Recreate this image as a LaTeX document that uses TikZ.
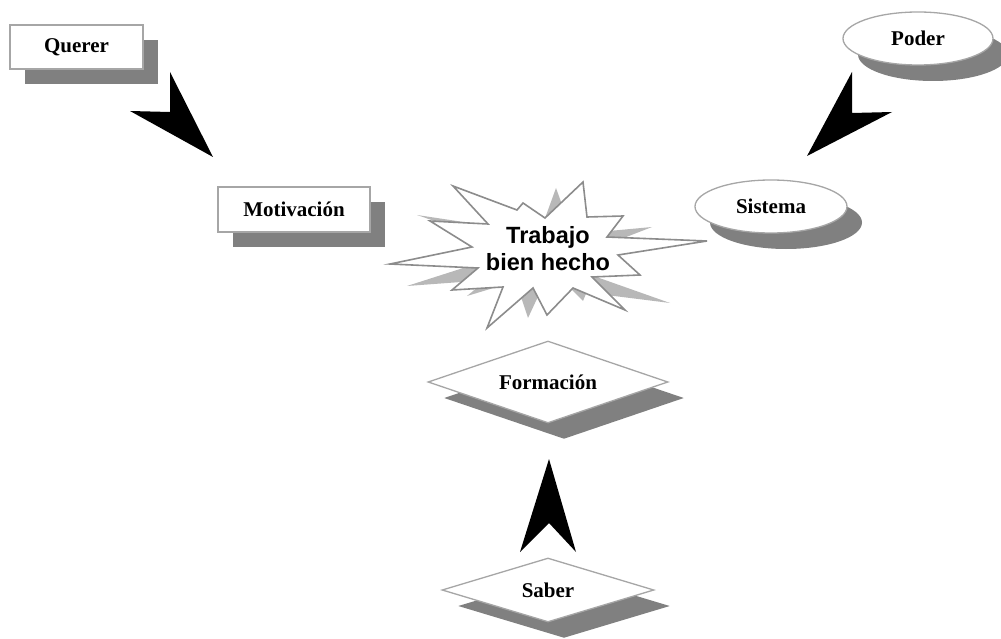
\documentclass[tikz,border=0pt]{standalone}
\usepackage{fontspec}
\setmainfont{Liberation Serif}
\newfontfamily\arialfont{Liberation Sans}
\usetikzlibrary{shapes.geometric,shadows}

\definecolor{sombra}{HTML}{808080}
\definecolor{borde}{HTML}{A6A6A6}
\definecolor{estrella}{HTML}{8C8C8C}
\definecolor{rayo}{HTML}{B8B8B8}

\begin{document}
\begin{tikzpicture}[x=1pt, y=-1pt,
			every node/.style={font=\fontsize{21}{25}\selectfont\bfseries, inner sep=0pt},
			caja/.style={draw=borde, line width=1.3pt, fill=white, rectangle,
				drop shadow={shadow xshift=15pt, shadow yshift=-15pt, fill=sombra, opacity=1}},
			elipse/.style={draw=borde, line width=1.3pt, fill=white, ellipse,
				drop shadow={shadow xshift=15pt, shadow yshift=-16pt, fill=sombra, opacity=1}},
			rombo/.style={draw=borde, line width=1.3pt, fill=white, diamond, aspect=3,
				drop shadow={shadow xshift=16pt, shadow yshift=-16pt, fill=sombra, opacity=1}},
			flecha/.style={fill=black}]
			\useasboundingbox (0,0) rectangle (1001,639);
			\node[caja, minimum width=133pt, minimum height=44pt] (querer) at (76.5,47) {Querer};
			\node[caja, minimum width=152pt, minimum height=45pt] (motiv) at (294,209.5) {Motivación};
			\node[elipse, minimum width=150pt, minimum height=53pt] (poder) at (918,38.5) {Poder};
			\node[elipse, minimum width=152pt, minimum height=53pt] (sistema) at (771,206.5) {Sistema};
			\node[rombo, minimum width=240pt, minimum height=82pt] (formacion) at (548,382) {Formación};
			\node[rombo, aspect=3.3, minimum width=212pt, minimum height=64pt] (saber) at (548,590) {Saber};
			% rayos grises detras de la estrella
			\fill[rayo] (417,215) -- (490,226) -- (490,240) -- cycle;
			\fill[rayo] (556,188) -- (540,232) -- (572,232) -- cycle;
			\fill[rayo] (652,227) -- (598,232) -- (598,248) -- cycle;
			\fill[rayo] (670,303) -- (588,274) -- (598,294) -- cycle;
			\fill[rayo] (583,301) -- (566,284) -- (590,284) -- cycle;
			\fill[rayo] (528,318) -- (518,288) -- (542,288) -- cycle;
			\fill[rayo] (467,296) -- (484,282) -- (500,286) -- cycle;
			\fill[rayo] (407,286) -- (482,262) -- (488,280) -- cycle;
			% estrella
			\draw[estrella, line width=1.6pt, fill=white, line join=miter]
				(453,186) -- (517,210) -- (523,203) -- (545,218) -- (583,182) -- (587,217)
				-- (623,216) -- (607,237) -- (707,241) -- (618,255) -- (640,275) -- (592,277)
				-- (625,310) -- (573,288) -- (547,315) -- (533,288) -- (487,328) -- (503,287)
				-- (452,290) -- (478,268) -- (390,264) -- (472,247) -- (430,221) -- (488,224) -- cycle;
			\node[font=\arialfont\fontsize{23.5}{27}\selectfont\bfseries, align=center] (trabajo) at (548,249) {Trabajo\\bien hecho};
			% flechas
			\fill[flecha] (130,111) -- (170,112) -- (170,72) -- (213,157) -- cycle;
			\fill[flecha] (852,72) -- (852,113) -- (892,112) -- (807,156) -- cycle;
			\fill[flecha] (549,459) -- (576,552) -- (549,523) -- (520,552) -- cycle;
		\end{tikzpicture}
\end{document}
